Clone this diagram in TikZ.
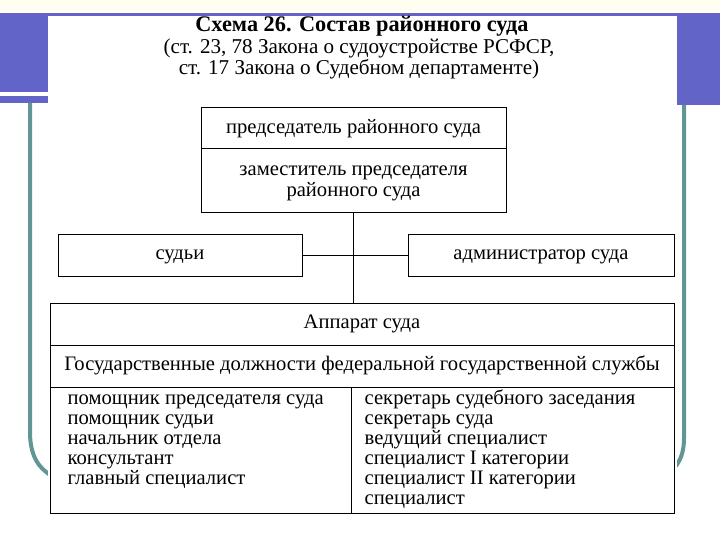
\documentclass[tikz,border=0pt]{standalone}
\usepackage{fontspec}
\setmainfont{Liberation Serif}
\usetikzlibrary{positioning}
\definecolor{slideblue}{RGB}{98,100,200}
\definecolor{slideteal}{RGB}{98,150,150}
\definecolor{slidecream}{RGB}{255,254,240}

\begin{document}
\begin{tikzpicture}[x = 1pt, y = -1pt,
    box/.style = {draw, line width = 1pt, inner sep = 0pt, align = center,
        font = \fontsize{20.6}{21}\selectfont, text height = 9.4pt, text depth = 0pt},
    item/.style = {anchor = base west, inner sep = 0pt,
        font = \fontsize{20.6}{20}\selectfont}]
    % slide background
    \useasboundingbox (0,0) rectangle (720,540);
    \fill[slidecream] (0,0) rectangle (720,13);
    \fill[slideblue] (0,13) rectangle (720,16);
    \fill[slideblue] (0,14) rectangle (48,92);
    \fill[slideblue] (0,96) rectangle (48,103);
    \fill[slideblue] (677,14) rectangle (720,105);
    \draw[slideteal, line width = 4pt] (30,103) -- (30,432) .. controls (30,455) and (38,468) .. (52,476);
    \draw[slideteal, line width = 4pt] (684,105) -- (684,438) .. controls (684,451) and (681,459) .. (676,466);
    \fill[white] (48,16) rectangle (677,520);

    % title
    \node[font = \fontsize{22.3}{23}\selectfont\bfseries] (title) at (362,26.5) {Схема 26. Состав районного суда};
    \node[align = center, font = \fontsize{21.1}{21}\selectfont,
        execute at begin node = \strut, execute at end node = \strut] (source) at (359,60)
        {(ст. 23, 78 Закона о судоустройстве РСФСР,\\ ст. 17 Закона о Судебном департаменте)};

    % boxes
    \node[box, minimum width = 305, minimum height = 41] (chair) at (353.5,128.5) {председатель районного суда};
    \node[box, minimum width = 305, minimum height = 64, text height = 30.4pt] (deputy) at (353.5,181) {заместитель председателя\\ районного суда};
    \node[box, minimum width = 244, minimum height = 42] (judges) at (180,255) {судьи};
    \node[box, minimum width = 266, minimum height = 42] (admin) at (541,255) {администратор суда};
    \node[box, minimum width = 624, minimum height = 42] (staff) at (362,324) {Аппарат суда};
    \node[box, minimum width = 624, minimum height = 42] (posts) at (362,366) {Государственные должности федеральной государственной службы};
    \node[box, minimum width = 301, minimum height = 126] (leftcol) at (200.5,450) {};
    \node[box, minimum width = 323, minimum height = 126] (rightcol) at (512.5,450) {};

    % connectors
    \draw[line width = 1pt] (deputy.south) -- (deputy.south |- staff.north);
    \draw[line width = 1pt] (judges.east) -- (admin.west);

    % posts lists
    \foreach \txt [count = \i] in {помощник председателя суда, помощник судьи,
        начальник отдела, консультант, главный специалист}
        \node[item] (left\i) at ([shift = {(18,18 + 20*\i - 20)}]leftcol.north west) {\txt};
    \foreach \txt [count = \i] in {секретарь судебного заседания, секретарь суда,
        ведущий специалист, специалист I категории, специалист II категории, специалист}
        \node[item] (right\i) at ([shift = {(14,18 + 20*\i - 20)}]rightcol.north west) {\txt};
\end{tikzpicture}
\end{document}
